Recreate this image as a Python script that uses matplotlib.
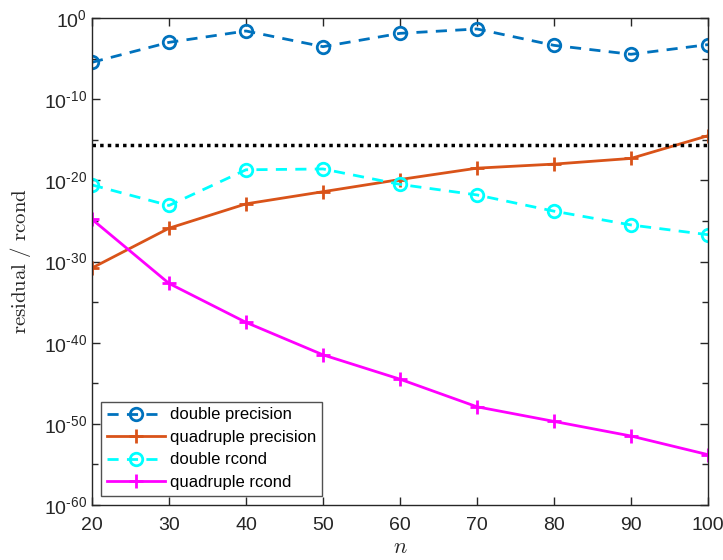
import numpy as np
import matplotlib
matplotlib.use("Agg")
import matplotlib.pyplot as plt

# values (log10 of the plotted quantities)
n = [20, 30, 40, 50, 60, 70, 80, 90, 100]
log_double_prec = [-5.46, -3.0, -1.6, -3.53, -1.89, -1.35, -3.37, -4.47, -3.28]
log_quad_prec = [-30.8, -25.9, -22.9, -21.4, -19.9, -18.5, -18.0, -17.3, -14.5]
log_double_rcond = [-20.57, -23.1, -18.7, -18.6, -20.5, -21.8, -23.8, -25.5, -26.7]
log_quad_rcond = [-24.8, -32.7, -37.5, -41.5, -44.5, -47.9, -49.7, -51.5, -53.8]
eps_double = 2.22e-16
ytick_exp = list(range(-60, 1, 10))

plt.rcParams['font.family'] = ['Liberation Sans', 'DejaVu Sans']
plt.rcParams['mathtext.fontset'] = 'custom'
plt.rcParams['mathtext.rm'] = 'Liberation Sans'
plt.rcParams['mathtext.it'] = 'Liberation Sans:italic'
plt.rcParams['mathtext.bf'] = 'Liberation Sans:bold'

fig = plt.figure(figsize=(7.23, 5.6), dpi=100)
ax = fig.add_axes([92 / 723, 1 - 505 / 560, 616 / 723, 487 / 560])

ax.plot(n, 10.0 ** np.array(log_double_prec), '--o', color='#0072BD', lw=2,
        ms=9, mfc='none', mew=2, dashes=(4, 3), label='double precision')
ax.plot(n, 10.0 ** np.array(log_quad_prec), '-+', color='#D95319', lw=2,
        ms=10, mew=2, label='quadruple precision')
ax.plot(n, 10.0 ** np.array(log_double_rcond), '--o', color='#00FFFF', lw=2,
        ms=9, mfc='none', mew=2, dashes=(4, 3), label='double rcond')
ax.plot(n, 10.0 ** np.array(log_quad_rcond), '-+', color='#FF00FF', lw=2,
        ms=10, mew=2, label='quadruple rcond')
ax.axhline(eps_double, color='black', ls=(0, (1, 1.2)), lw=2.5)

ax.set_yscale('log')
ax.set_xlim(20, 100)
ax.set_ylim(1e-60, 1e0)
ax.set_xticks(np.arange(20, 101, 10))
ax.set_yticks([10.0 ** k for k in ytick_exp])
ax.set_yticks([10.0 ** k for k in range(-55, 0, 10)], minor=True)
ax.set_yticklabels(['$\\mathrm{10^{%s}}$' % str(k).replace('-', '\u2010')
                    for k in ytick_exp])
ax.yaxis.set_minor_formatter(plt.NullFormatter())

ax.tick_params(which='both', direction='in', top=True, right=True,
               labelsize=14, colors='#262626', width=1)
ax.tick_params(which='major', length=6)
ax.tick_params(which='minor', length=4)
ax.tick_params(axis='x', pad=9)
for s in ax.spines.values():
    s.set_color('#262626')
    s.set_linewidth(1)

ax.set_xlabel('$n$', fontsize=16, color='#262626', labelpad=2,
              math_fontfamily='cm')
ax.set_ylabel('$\\mathrm{residual\\ /\\ rcond}$', fontsize=15,
              color='#262626', labelpad=8, math_fontfamily='cm')

leg = ax.legend(loc='lower left', fontsize=12, handlelength=3.5,
                borderaxespad=0.55, fancybox=False, edgecolor='#262626',
                labelspacing=0.45, handletextpad=0.3, borderpad=0.35)
leg.get_frame().set_linewidth(1)

fig.savefig('out.png', dpi=100)
